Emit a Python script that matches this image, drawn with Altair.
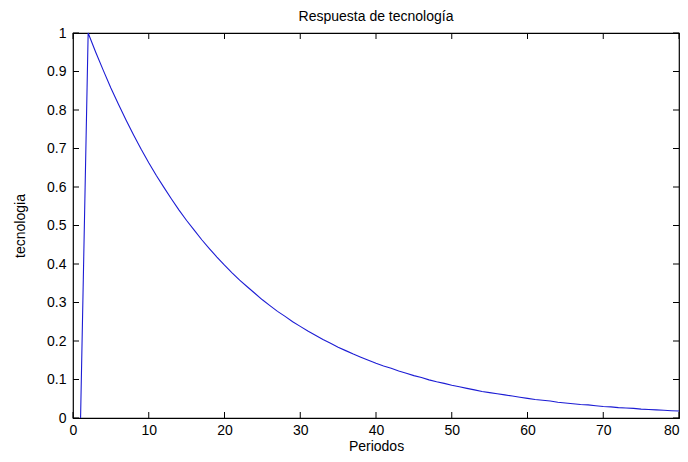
import altair as alt
import pandas as pd

periods = list(range(1, 81))
tecnologia = [
    0.000, 1.000, 0.950, 0.903, 0.857, 0.815, 0.774, 0.735, 0.698, 0.663,
    0.630, 0.599, 0.569, 0.540, 0.513, 0.488, 0.463, 0.440, 0.418, 0.397,
    0.377, 0.358, 0.341, 0.324, 0.307, 0.292, 0.277, 0.264, 0.250, 0.238,
    0.226, 0.215, 0.204, 0.194, 0.184, 0.175, 0.166, 0.158, 0.150, 0.142,
    0.135, 0.129, 0.122, 0.116, 0.110, 0.105, 0.099, 0.094, 0.090, 0.085,
    0.081, 0.077, 0.073, 0.069, 0.066, 0.063, 0.060, 0.057, 0.054, 0.051,
    0.048, 0.046, 0.044, 0.041, 0.039, 0.037, 0.035, 0.034, 0.032, 0.030,
    0.029, 0.027, 0.026, 0.025, 0.023, 0.022, 0.021, 0.020, 0.019, 0.018,
]
x_ticks = [0, 10, 20, 30, 40, 50, 60, 70, 80]
y_ticks = [0, 0.1, 0.2, 0.3, 0.4, 0.5, 0.6, 0.7, 0.8, 0.9, 1]

title_text = "Respuesta de tecnología"
x_title = "Periodos"
y_title = "tecnologia"

W, H = 606, 385
TL = 6
FONT = "Liberation Sans"

df = pd.DataFrame({"Periodos": periods, "tecnologia": tecnologia})
xt = pd.DataFrame({"v": x_ticks})
yt = pd.DataFrame({"v": y_ticks})

xs = alt.Scale(domain=[0, 80], nice=False, zero=False)
ys = alt.Scale(domain=[0, 1], nice=False)
x_axis = alt.Axis(values=x_ticks, title=x_title, format="d",
                  labelPadding=5, titlePadding=2,
                  labelAlign={"expr": "datum.value == 80 ? 'right' : 'center'"})
y_axis = alt.Axis(values=y_ticks, title=y_title, format="~g",
                  labelPadding=7, titlePadding=19)

line = alt.Chart(df).mark_line(color="#1c1cd4", strokeWidth=1.1).encode(
    x=alt.X("Periodos:Q", scale=xs, axis=x_axis),
    y=alt.Y("tecnologia:Q", scale=ys, axis=y_axis),
)

tick_bot = alt.Chart(xt).mark_rule(color="black").encode(
    x=alt.X("v:Q", scale=xs, axis=x_axis), y=alt.value(H), y2=alt.value(H - TL))
tick_top = alt.Chart(xt).mark_rule(color="black").encode(
    x=alt.X("v:Q", scale=xs, axis=x_axis), y=alt.value(0), y2=alt.value(TL))
tick_left = alt.Chart(yt).mark_rule(color="black").encode(
    y=alt.Y("v:Q", scale=ys, axis=y_axis), x=alt.value(0), x2=alt.value(TL))
tick_right = alt.Chart(yt).mark_rule(color="black").encode(
    y=alt.Y("v:Q", scale=ys, axis=y_axis), x=alt.value(W - TL), x2=alt.value(W))

chart = alt.layer(line, tick_bot, tick_top, tick_left, tick_right).properties(
    width=W, height=H,
    title=alt.TitleParams(title_text, font=FONT, fontSize=14, fontWeight="normal",
                          color="black", offset=2),
    autosize="none",
    padding={"left": 65, "top": 25, "right": 1, "bottom": 36},
).configure_view(
    stroke="black", strokeWidth=1.2
).configure_axis(
    grid=False, domain=False, tickSize=0,
    labelFont=FONT, labelFontSize=14, labelColor="black",
    titleFont=FONT, titleFontSize=14, titleFontWeight="normal", titleColor="black",
)

chart.save("out.html", embed_options={"renderer": "svg", "actions": False})
